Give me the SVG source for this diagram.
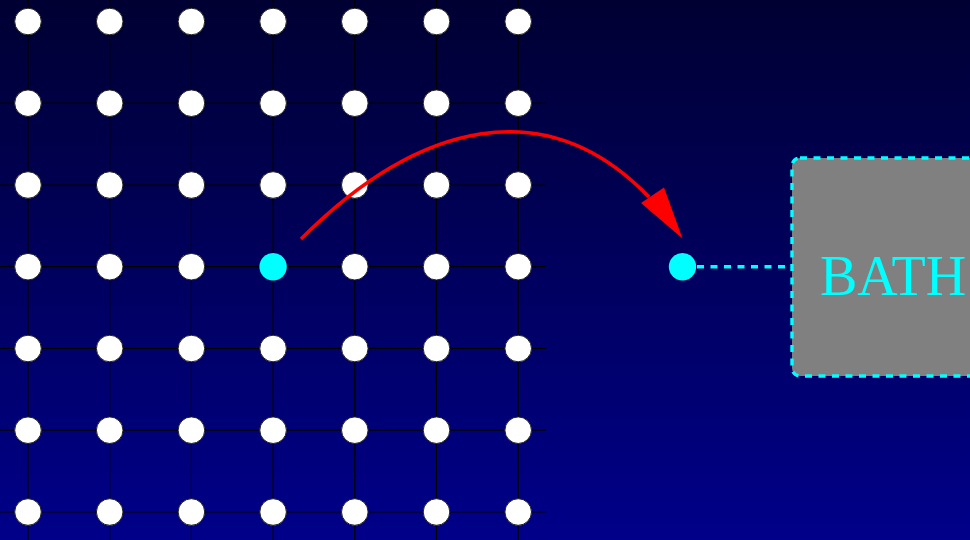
<svg xmlns="http://www.w3.org/2000/svg" width="970" height="540" viewBox="0 0 970 540">
<defs>
<linearGradient id="bg" x1="0" y1="0" x2="0" y2="1">
<stop offset="0" stop-color="#000033"/>
<stop offset="1" stop-color="#00008a"/>
</linearGradient>
</defs>
<style>
.grid{stroke:#000000;stroke-width:1.2;fill:none}
.dot{fill:#ffffff;stroke:#222222;stroke-width:1}
.cyan{fill:#00ffff;stroke:none}
.dash{stroke:#00ffff;stroke-width:3.4;stroke-dasharray:7 6.5}
.box{fill:#808080}
.lbl{font-family:"Liberation Serif","Times New Roman",serif;font-size:56px;fill:#00ffff}
</style>
<rect x="0" y="0" width="970" height="540" fill="url(#bg)"/>
<g id="grid" class="grid">
<path d="M0,21.5H546M0,103.2H546M0,185H546M0,266.7H546M0,348.5H546M0,430.2H546M0,512H546"/>
<path d="M28,0V540M109.7,0V540M191.4,0V540M273.1,0V540M354.8,0V540M436.5,0V540M518.2,0V540"/>
</g>
<g id="nodes">
<g id="n00"><circle class="dot" cx="28" cy="21.5" r="13.3"/></g>
<g id="n10"><circle class="dot" cx="109.7" cy="21.5" r="13.3"/></g>
<g id="n20"><circle class="dot" cx="191.4" cy="21.5" r="13.3"/></g>
<g id="n30"><circle class="dot" cx="273.1" cy="21.5" r="13.3"/></g>
<g id="n40"><circle class="dot" cx="354.8" cy="21.5" r="13.3"/></g>
<g id="n50"><circle class="dot" cx="436.5" cy="21.5" r="13.3"/></g>
<g id="n60"><circle class="dot" cx="518.2" cy="21.5" r="13.3"/></g>
<g id="n01"><circle class="dot" cx="28" cy="103.2" r="13.3"/></g>
<g id="n11"><circle class="dot" cx="109.7" cy="103.2" r="13.3"/></g>
<g id="n21"><circle class="dot" cx="191.4" cy="103.2" r="13.3"/></g>
<g id="n31"><circle class="dot" cx="273.1" cy="103.2" r="13.3"/></g>
<g id="n41"><circle class="dot" cx="354.8" cy="103.2" r="13.3"/></g>
<g id="n51"><circle class="dot" cx="436.5" cy="103.2" r="13.3"/></g>
<g id="n61"><circle class="dot" cx="518.2" cy="103.2" r="13.3"/></g>
<g id="n02"><circle class="dot" cx="28" cy="185" r="13.3"/></g>
<g id="n12"><circle class="dot" cx="109.7" cy="185" r="13.3"/></g>
<g id="n22"><circle class="dot" cx="191.4" cy="185" r="13.3"/></g>
<g id="n32"><circle class="dot" cx="273.1" cy="185" r="13.3"/></g>
<g id="n42"><circle class="dot" cx="354.8" cy="185" r="13.3"/></g>
<g id="n52"><circle class="dot" cx="436.5" cy="185" r="13.3"/></g>
<g id="n62"><circle class="dot" cx="518.2" cy="185" r="13.3"/></g>
<g id="n03"><circle class="dot" cx="28" cy="266.7" r="13.3"/></g>
<g id="n13"><circle class="dot" cx="109.7" cy="266.7" r="13.3"/></g>
<g id="n23"><circle class="dot" cx="191.4" cy="266.7" r="13.3"/></g>
<g id="n33"><circle class="cyan" cx="273.1" cy="266.7" r="13.7"/></g>
<g id="n43"><circle class="dot" cx="354.8" cy="266.7" r="13.3"/></g>
<g id="n53"><circle class="dot" cx="436.5" cy="266.7" r="13.3"/></g>
<g id="n63"><circle class="dot" cx="518.2" cy="266.7" r="13.3"/></g>
<g id="n04"><circle class="dot" cx="28" cy="348.5" r="13.3"/></g>
<g id="n14"><circle class="dot" cx="109.7" cy="348.5" r="13.3"/></g>
<g id="n24"><circle class="dot" cx="191.4" cy="348.5" r="13.3"/></g>
<g id="n34"><circle class="dot" cx="273.1" cy="348.5" r="13.3"/></g>
<g id="n44"><circle class="dot" cx="354.8" cy="348.5" r="13.3"/></g>
<g id="n54"><circle class="dot" cx="436.5" cy="348.5" r="13.3"/></g>
<g id="n64"><circle class="dot" cx="518.2" cy="348.5" r="13.3"/></g>
<g id="n05"><circle class="dot" cx="28" cy="430.2" r="13.3"/></g>
<g id="n15"><circle class="dot" cx="109.7" cy="430.2" r="13.3"/></g>
<g id="n25"><circle class="dot" cx="191.4" cy="430.2" r="13.3"/></g>
<g id="n35"><circle class="dot" cx="273.1" cy="430.2" r="13.3"/></g>
<g id="n45"><circle class="dot" cx="354.8" cy="430.2" r="13.3"/></g>
<g id="n55"><circle class="dot" cx="436.5" cy="430.2" r="13.3"/></g>
<g id="n65"><circle class="dot" cx="518.2" cy="430.2" r="13.3"/></g>
<g id="n06"><circle class="dot" cx="28" cy="512" r="13.3"/></g>
<g id="n16"><circle class="dot" cx="109.7" cy="512" r="13.3"/></g>
<g id="n26"><circle class="dot" cx="191.4" cy="512" r="13.3"/></g>
<g id="n36"><circle class="dot" cx="273.1" cy="512" r="13.3"/></g>
<g id="n46"><circle class="dot" cx="354.8" cy="512" r="13.3"/></g>
<g id="n56"><circle class="dot" cx="436.5" cy="512" r="13.3"/></g>
<g id="n66"><circle class="dot" cx="518.2" cy="512" r="13.3"/></g>
<g id="target"><circle class="cyan" cx="682.5" cy="266.7" r="13.7"/></g>
<g id="bath">
<rect class="box dash" x="792" y="158" width="300" height="218" rx="8" ry="8"/>
<text class="lbl" x="820" y="295">BATH</text>
</g>
</g>
<g id="connectors">
<path d="M301,239 C418,122 546,90 649,197" fill="none" stroke="#ff0000" stroke-width="3.5"/>
<polygon points="682.5,238.5 641,203 664,187.5" fill="#ff0000"/>
<path class="dash" fill="none" d="M697,266.7H791"/>
</g>
</svg>
